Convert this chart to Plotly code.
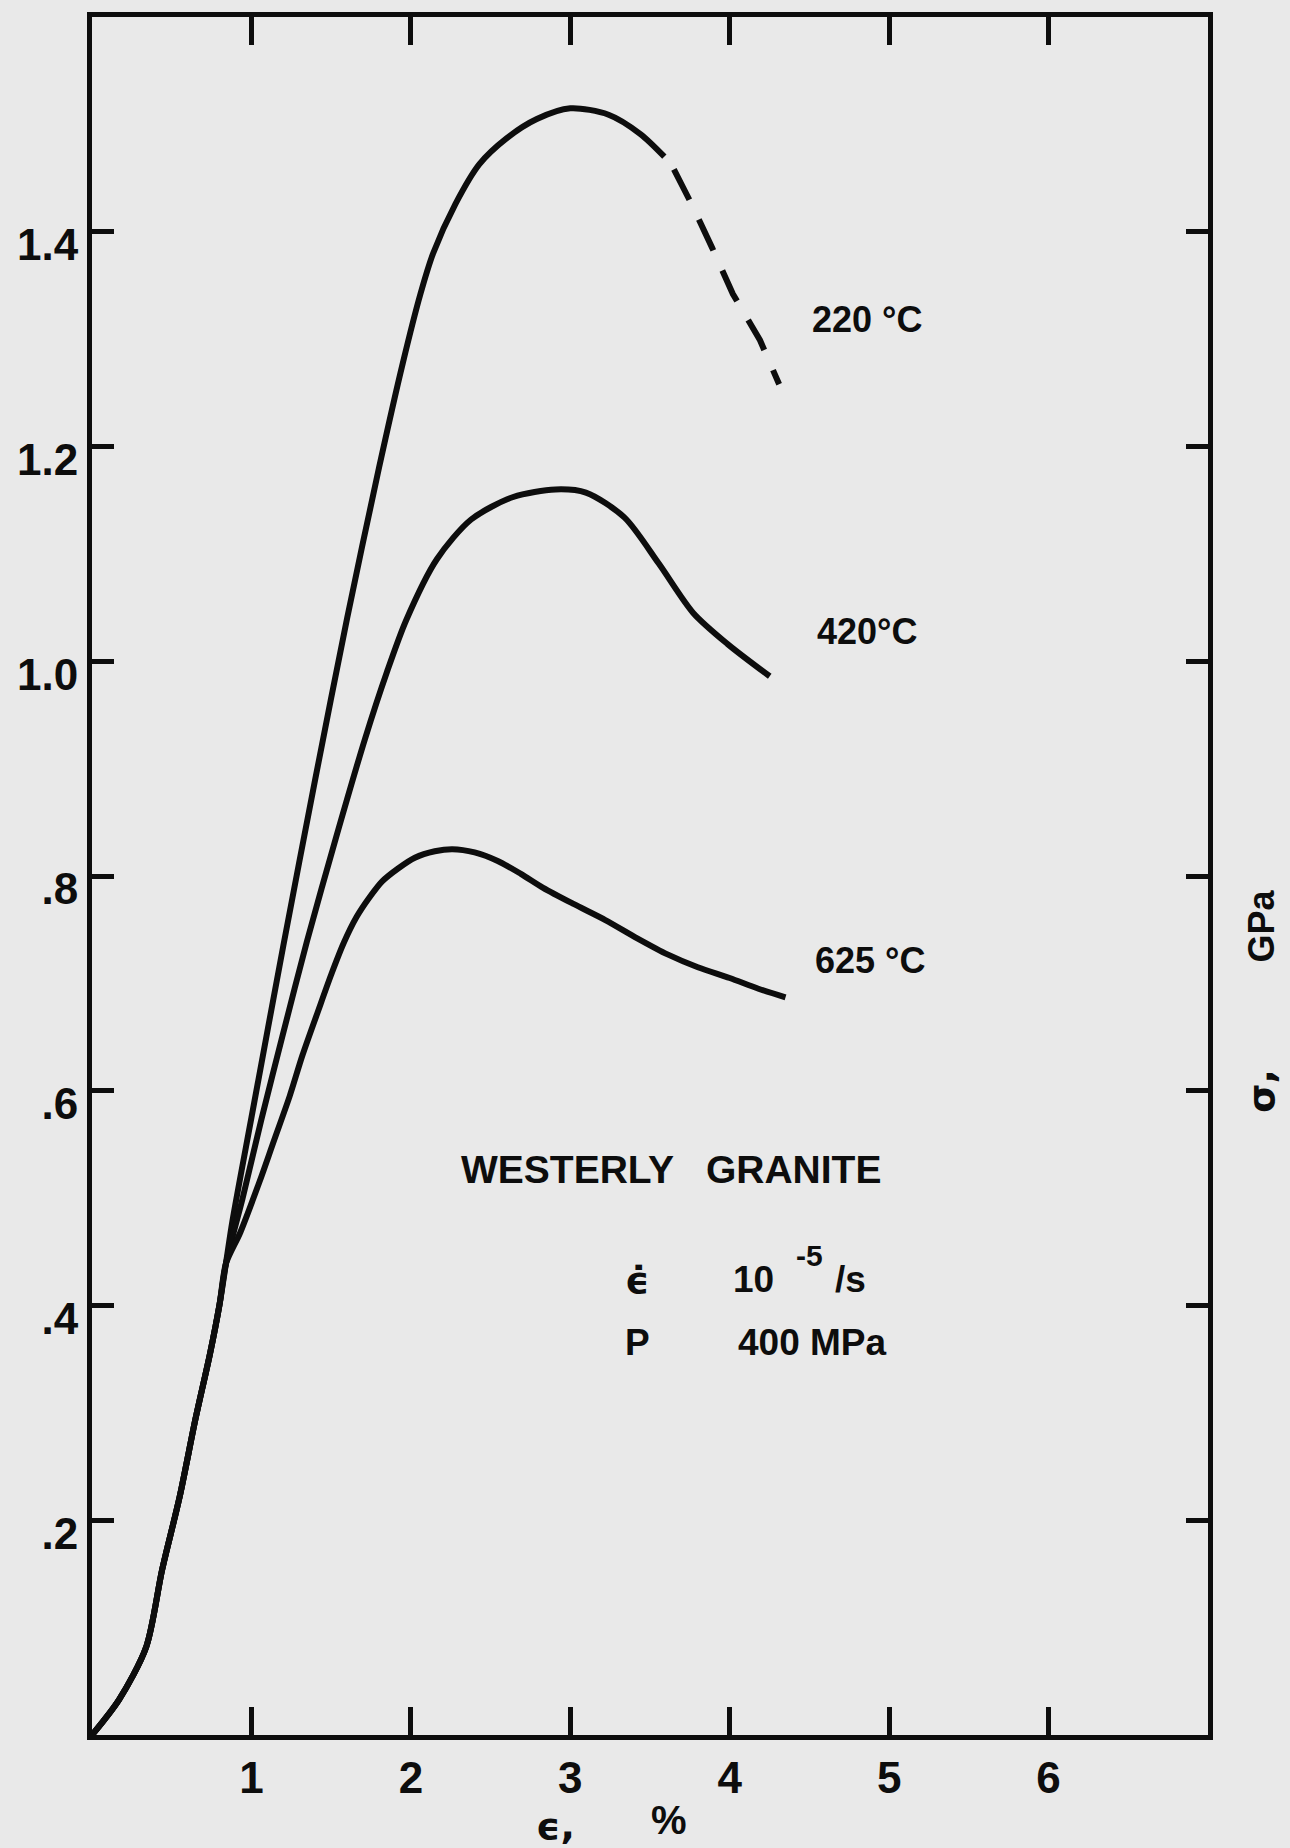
import plotly.graph_objects as go

# ---- data (strain %, stress GPa) ----
strain_220 = [0.0, 0.17, 0.34, 0.44, 0.55, 0.65, 0.74, 0.80, 0.84, 0.88, 1.00, 1.20, 1.40, 1.60,
              1.80, 1.95, 2.06, 2.14, 2.28, 2.43, 2.60, 2.79, 3.00, 3.24, 3.44, 3.59]
stress_220 = [0.0, 0.033, 0.082, 0.154, 0.222, 0.295, 0.355, 0.401, 0.439, 0.478, 0.575, 0.735,
              0.890, 1.040, 1.180, 1.278, 1.342, 1.380, 1.426, 1.463, 1.487, 1.505, 1.515, 1.509,
              1.491, 1.470]
strain_220_dash = [3.65, 3.76, 3.89, 4.02, 4.19, 4.31]
stress_220_dash = [1.458, 1.426, 1.385, 1.342, 1.299, 1.258]

strain_420 = [0.0, 0.17, 0.34, 0.44, 0.55, 0.65, 0.74, 0.80, 0.84, 0.945, 1.062, 1.193, 1.348,
              1.531, 1.713, 1.85, 1.97, 2.163, 2.378, 2.642, 2.907, 3.098, 3.339, 3.555, 3.771,
              3.987, 4.251]
stress_420 = [0.0, 0.033, 0.082, 0.154, 0.222, 0.295, 0.355, 0.401, 0.439, 0.500, 0.573, 0.650,
              0.739, 0.836, 0.928, 0.990, 1.038, 1.095, 1.132, 1.153, 1.160, 1.157, 1.134, 1.091,
              1.045, 1.016, 0.986]

strain_625 = [0.0, 0.17, 0.34, 0.44, 0.55, 0.65, 0.74, 0.80, 0.84, 0.93, 1.05, 1.14, 1.24, 1.32,
              1.42, 1.50, 1.58, 1.66, 1.74, 1.82, 1.92, 2.025, 2.15, 2.26, 2.40, 2.545, 2.69,
              2.83, 3.02, 3.22, 3.42, 3.61, 3.80, 4.00, 4.18, 4.35]
stress_625 = [0.0, 0.033, 0.082, 0.154, 0.222, 0.295, 0.355, 0.401, 0.439, 0.468, 0.515, 0.553,
              0.595, 0.633, 0.675, 0.708, 0.738, 0.762, 0.780, 0.795, 0.807, 0.817, 0.823, 0.825,
              0.822, 0.814, 0.802, 0.789, 0.774, 0.759, 0.742, 0.727, 0.715, 0.705, 0.695, 0.687]

x_tick_vals = [1, 2, 3, 4, 5, 6]
x_tick_text = ["1", "2", "3", "4", "5", "6"]
y_tick_vals = [0.2, 0.4, 0.6, 0.8, 1.0, 1.2, 1.4]
y_tick_text = [".2", ".4", ".6", ".8", "1.0", "1.2", "1.4"]

curve_labels = ["220 °C", "420°C", "625 °C"]
curve_label_pos = [(4.86, 1.318), (4.86, 1.028), (4.88, 0.721)]

INK = "#0d0d0d"
BG = "#e9e9e9"
FONT = "Liberation Sans"

fig = go.Figure()
line_style = dict(color=INK, width=6, shape="spline", smoothing=0.8)
fig.add_trace(go.Scatter(x=strain_220, y=stress_220, mode="lines", line=line_style, showlegend=False))
fig.add_trace(go.Scatter(x=strain_220_dash, y=stress_220_dash, mode="lines",
                         line=dict(color=INK, width=6, dash="34px,22px"), showlegend=False))
fig.add_trace(go.Scatter(x=strain_420, y=stress_420, mode="lines", line=line_style, showlegend=False))
fig.add_trace(go.Scatter(x=strain_625, y=stress_625, mode="lines", line=line_style, showlegend=False))

ann = []
for (lx, ly), t in zip(curve_label_pos, curve_labels):
    ann.append(dict(x=lx, y=ly, xref="x", yref="y", text=t, showarrow=False,
                    font=dict(family=FONT, size=36, color=INK, weight="bold")))

ann += [
    dict(x=3.63, y=0.527, xref="x", yref="y", text="WESTERLY   GRANITE", showarrow=False,
         font=dict(family=FONT, size=39, color=INK, weight="bold")),
    dict(x=3.42, y=0.424, xref="x", yref="y", text="ϵ̇", showarrow=False,
         font=dict(family="DejaVu Sans", size=38, color=INK, weight="bold")),
    dict(x=4.15, y=0.424, xref="x", yref="y", text="10", showarrow=False,
         font=dict(family=FONT, size=37, color=INK, weight="bold")),
    dict(x=4.50, y=0.447, xref="x", yref="y", text="-5", showarrow=False,
         font=dict(family=FONT, size=30, color=INK, weight="bold")),
    dict(x=4.76, y=0.424, xref="x", yref="y", text="/s", showarrow=False,
         font=dict(family=FONT, size=37, color=INK, weight="bold")),
    dict(x=3.42, y=0.366, xref="x", yref="y", text="P", showarrow=False,
         font=dict(family=FONT, size=37, color=INK, weight="bold")),
    dict(x=4.52, y=0.366, xref="x", yref="y", text="400 MPa", showarrow=False,
         font=dict(family=FONT, size=37, color=INK, weight="bold")),
    dict(x=555, y=1826, xref="paper", yref="paper", text="ϵ,", showarrow=False,
         font=dict(family="DejaVu Sans", size=38, color=INK, weight="bold")),
    dict(x=669, y=1820, xref="paper", yref="paper", text="%", showarrow=False,
         font=dict(family=FONT, size=40, color=INK, weight="bold")),
    dict(x=1261, y=925, xref="paper", yref="paper", text="GPa", showarrow=False, textangle=-90,
         font=dict(family=FONT, size=36, color=INK, weight="bold")),
    dict(x=1261, y=1090, xref="paper", yref="paper", text="σ,", showarrow=False, textangle=-90,
         font=dict(family="DejaVu Sans", size=38, color=INK, weight="bold")),
]

# convert pixel-positioned paper annotations into paper fractions
W, H = 1290, 1848
L, R, T, B = 92, 82, 14, 113
pw, ph = W - L - R, H - T - B
for a in ann:
    a["xanchor"] = "center"
    a["yanchor"] = "middle"
    if a["xref"] == "paper":
        a["x"] = (a["x"] - L) / pw
        a["y"] = 1 - (a["y"] - T) / ph

fig.update_layout(
    width=W, height=H,
    margin=dict(l=L, r=R, t=T, b=B),
    paper_bgcolor=BG, plot_bgcolor=BG,
    annotations=ann,
    font=dict(family=FONT, color=INK),
)
fig.update_xaxes(range=[0, 7], tickvals=x_tick_vals, ticktext=x_tick_text,
                 ticks="inside", ticklen=28, tickwidth=5, tickcolor=INK,
                 showline=True, linewidth=5, linecolor=INK, mirror="ticks",
                 showgrid=False, zeroline=False,
                 tickfont=dict(family=FONT, size=44, color=INK, weight="bold"))
fig.update_yaxes(range=[0, 1.6], tickvals=y_tick_vals, ticktext=y_tick_text,
                 ticks="inside", ticklen=22, tickwidth=5, tickcolor=INK,
                 showline=True, linewidth=5, linecolor=INK, mirror="ticks",
                 showgrid=False, zeroline=False, ticklabelshift=13,
                 tickfont=dict(family=FONT, size=44, color=INK, weight="bold"))

fig.write_html(
    "out.html",
    config={"displayModeBar": False},
    post_script="document.body.style.margin='0';document.body.style.background='%s';" % BG,
)
